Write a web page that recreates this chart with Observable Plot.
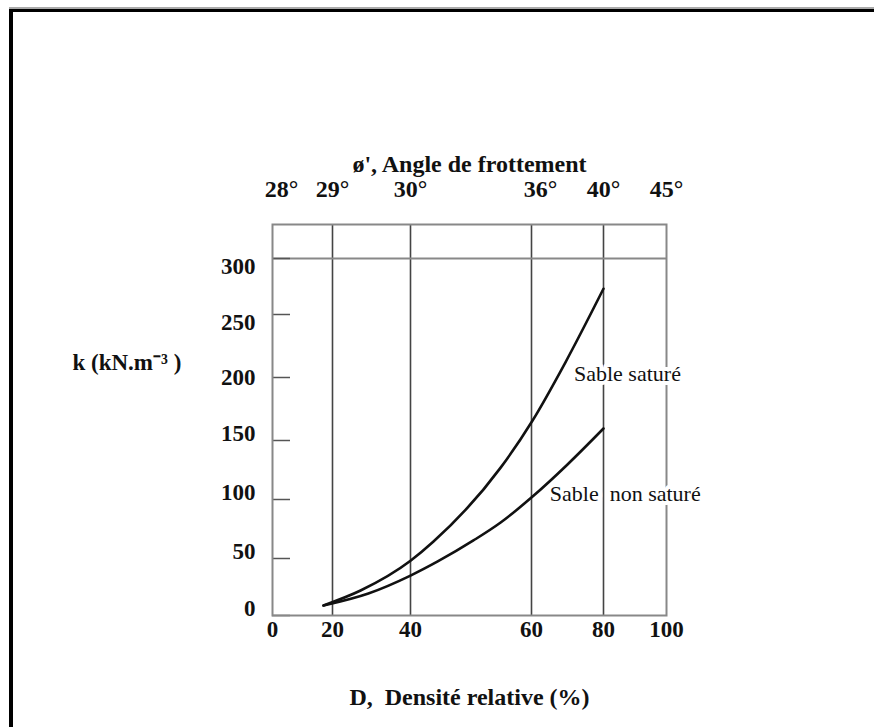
<!DOCTYPE html>
<html><head><meta charset="utf-8">
<script src="https://cdn.jsdelivr.net/npm/d3@7"></script>
<script src="https://cdn.jsdelivr.net/npm/@observablehq/plot@0.6"></script>
<style>
html,body{margin:0;padding:0;background:#fff;width:874px;height:727px;overflow:hidden;}
#frame{position:absolute;left:9px;top:9px;width:900px;height:800px;border-top:3px solid #000;border-left:4px solid #000;box-shadow:0 -2px 0 #aaa;}
#chart{position:absolute;left:0;top:0;}
</style></head><body><div id="frame"></div><div id="chart"></div>
<script>
const densityTicks = [0, 20, 40, 60, 80, 100];
const angleLabels = ["28°", "29°", "30°", "36°", "40°", "45°"];
const kTicks = [0, 50, 100, 150, 200, 250, 300];
const saturatedD = [17, 27.2, 40, 43.8, 54.9, 60.3, 69.4, 80];
const saturatedK = [8.8, 21.9, 48, 64.4, 127, 165.9, 211.9, 273];
const unsaturatedD = [17, 29.2, 40, 44.5, 50.4, 54.9, 60.3, 70, 80];
const unsaturatedK = [8.8, 19.3, 35, 47.4, 65.3, 80.5, 102.5, 129.7, 159.5];
const curveLabels = ["Sable saturé", "Sable  non saturé"];
const labelD = [87.6, 86.9];
const labelK = [203, 105];
const topTitle = "ø', Angle de frottement";
const bottomTitle = "D,  Densité relative (%)";
const yTitle = "k (kN.m⁻³ )";

const sat = saturatedD.map((d, i) => ({D: d, k: saturatedK[i]}));
const unsat = unsaturatedD.map((d, i) => ({D: d, k: unsaturatedK[i]}));
const labels = curveLabels.map((t, i) => ({t, D: labelD[i], k: labelK[i]}));
const angleOf = d => angleLabels[densityTicks.indexOf(d)];

const serif = "'Liberation Serif', 'Times New Roman', serif";
const plot = Plot.plot({
  width: 874, height: 727,
  marginLeft: 272, marginRight: 208, marginTop: 224, marginBottom: 112,
  style: {background: "transparent", fontFamily: serif, fontSize: "23px", color: "#111"},
  x: {type: "linear", domain: densityTicks, range: [272, 332, 410, 531, 603, 666]},
  y: {type: "linear", domain: kTicks, range: [615, 558, 499, 440, 377, 314, 258]},
  marks: [
    Plot.ruleX(densityTicks.slice(1, 5), {stroke: "#444", strokeWidth: 1.6}),
    Plot.ruleY([300], {stroke: "#888", strokeWidth: 2}),
    Plot.tickY(kTicks, {stroke: "#555", strokeWidth: 1.5, insetRight: 376}),
    Plot.frame({stroke: "#888", strokeWidth: 2}),
    Plot.line(sat, {x: "D", y: "k", curve: "monotone-x", stroke: "#111", strokeWidth: 2.6}),
    Plot.line(unsat, {x: "D", y: "k", curve: "monotone-x", stroke: "#111", strokeWidth: 2.6}),
    Plot.text(labels, {x: "D", y: "k", text: "t", stroke: "white", strokeWidth: 8, fill: "#111", fontSize: 22, fontFamily: serif}),
    Plot.axisX({anchor: "bottom", ticks: densityTicks, tickSize: 0, tickPadding: 5, fontWeight: "bold", fontSize: 23, label: null}),
    Plot.axisX({anchor: "bottom", ticks: [], tickSize: 0, fontWeight: "bold", fontSize: 24,
      label: bottomTitle, labelAnchor: "center", labelArrow: "none", labelOffset: 89}),
    Plot.axisX({anchor: "top", ticks: [20, 40, 80, 100], tickFormat: angleOf, tickSize: 0, tickPadding: 28, fontWeight: "bold", fontSize: 24,
      label: topTitle, labelAnchor: "center", labelArrow: "none", labelOffset: 70}),
    Plot.axisX({anchor: "top", ticks: [0, 60], tickFormat: angleOf, tickSize: 0, tickPadding: 28, dx: 9, fontWeight: "bold", fontSize: 24, label: null}),
    Plot.axisY({anchor: "left", ticks: [250, 300], tickSize: 0, tickPadding: 17, dy: 8, fontWeight: "bold", label: null}),
    Plot.axisY({anchor: "left", ticks: [200], tickSize: 0, tickPadding: 17, fontWeight: "bold", label: null}),
    Plot.axisY({anchor: "left", ticks: [0, 50, 100, 150], tickSize: 0, tickPadding: 17, dy: -7, fontWeight: "bold", label: null}),
    Plot.text([yTitle], {frameAnchor: "left", textAnchor: "start", dx: -200, dy: -57, fontWeight: "bold", fontSize: 23, fontFamily: serif})
  ]
});
document.getElementById("chart").appendChild(plot);
</script></body></html>
